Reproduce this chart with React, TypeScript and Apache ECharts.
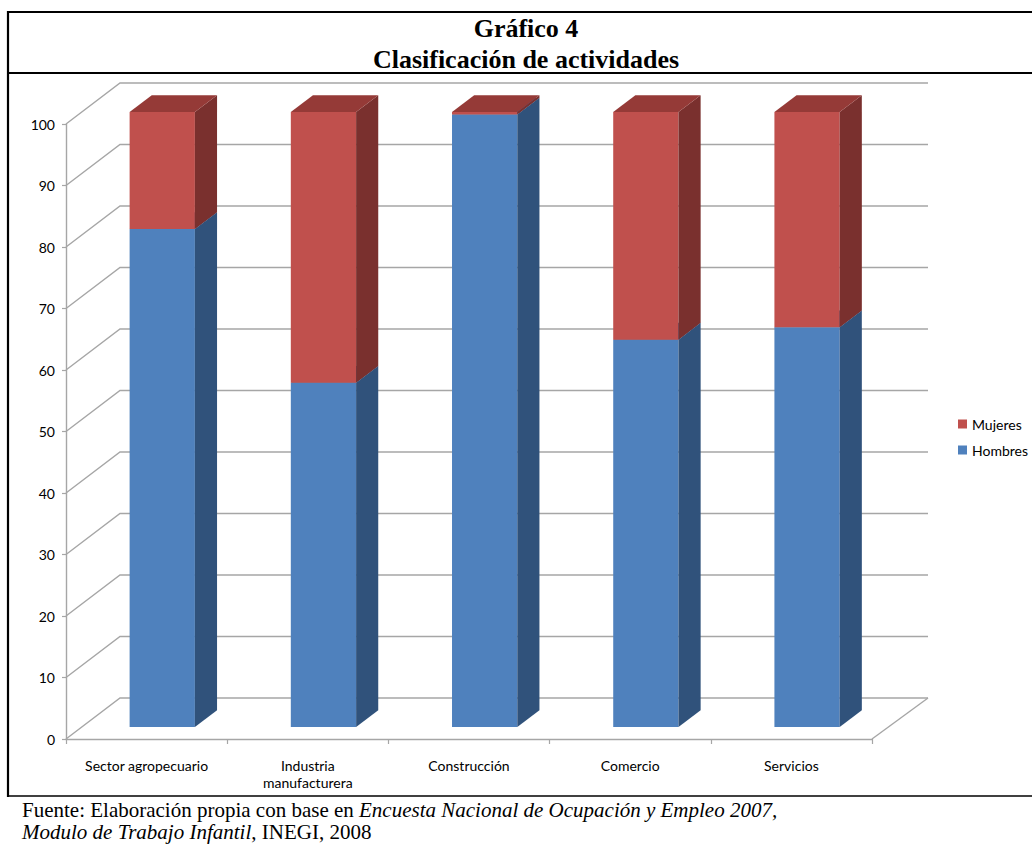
import React, { useEffect, useRef } from "react";
import * as echarts from "echarts";

const categories = [
  "Sector agropecuario",
  "Industria manufacturera",
  "Construcción",
  "Comercio",
  "Servicios",
];
const hombres = [81, 56, 99.6, 63, 65];
const mujeres = [19, 44, 0.4, 37, 35];
const yTicks = [0, 10, 20, 30, 40, 50, 60, 70, 80, 90, 100];

const DEPTH_X = 54;
const DEPTH_Y = -41;
const FRONT_RATIO = 0.29;
const BAR_DEPTH_RATIO = 0.41;
const GRID_COLOR = "#A6A6A6";

const COLORS: Record<string, { front: string; side: string; top: string }> = {
  Hombres: { front: "#4F81BD", side: "#30527B", top: "#3D679B" },
  Mujeres: { front: "#C0504D", side: "#7A302E", top: "#953A37" },
};

function barRenderer(name: string) {
  const c = COLORS[name];
  return (params: any, api: any) => {
    const idx = api.value(0);
    const base = api.value(1);
    const top = api.value(2);
    const pb = api.coord([idx, base]);
    const pt = api.coord([idx, top]);
    const catW = api.size([1, 0])[0];
    const w = catW * 0.405;
    const ox = DEPTH_X * FRONT_RATIO;
    const oy = DEPTH_Y * FRONT_RATIO;
    const dx = DEPTH_X * BAR_DEPTH_RATIO;
    const dy = DEPTH_Y * BAR_DEPTH_RATIO;
    const xL = pb[0] + ox - w / 2;
    const xR = xL + w;
    const yb = pb[1] + oy;
    const yt = pt[1] + oy;
    return {
      type: "group",
      children: [
        {
          type: "rect",
          shape: { x: xL, y: yt, width: w, height: yb - yt },
          style: { fill: c.front },
        },
        {
          type: "polygon",
          shape: {
            points: [
              [xR, yb],
              [xR + dx, yb + dy],
              [xR + dx, yt + dy],
              [xR, yt],
            ],
          },
          style: { fill: c.side },
        },
        {
          type: "polygon",
          shape: {
            points: [
              [xL, yt],
              [xR, yt],
              [xR + dx, yt + dy],
              [xL + dx, yt + dy],
            ],
          },
          style: { fill: c.top },
        },
      ],
    };
  };
}

function gridRenderer(params: any, api: any) {
  const cs = params.coordSys;
  const v = api.value(1);
  const y = api.coord([0, v])[1];
  const x0 = cs.x;
  const x1 = cs.x + cs.width;
  const children: any[] = [
    {
      type: "polyline",
      shape: {
        points: [
          [x0, y],
          [x0 + DEPTH_X, y + DEPTH_Y],
          [x1 + DEPTH_X + 2, y + DEPTH_Y],
        ],
      },
      style: { stroke: GRID_COLOR, lineWidth: 1.4, fill: null },
    },
  ];
  if (v === 0) {
    children.push({
      type: "line",
      shape: { x1: x1, y1: y, x2: x1 + DEPTH_X + 2, y2: y + DEPTH_Y },
      style: { stroke: GRID_COLOR, lineWidth: 1.4 },
    });
  }
  return { type: "group", children };
}

export default function App() {
  const ref = useRef<HTMLDivElement>(null);
  useEffect(() => {
    if (!ref.current) return;
    const chart = echarts.init(ref.current, null, { renderer: "svg" });
    const hData = hombres.map((v, i) => [i, 0, v]);
    const mData = mujeres.map((v, i) => [i, hombres[i], hombres[i] + v]);
    const serif = "'Liberation Serif', 'Times New Roman', serif";
    const sans = "Lato, 'Open Sans', sans-serif";
    chart.setOption({
      animation: false,
      backgroundColor: "#ffffff",
      grid: { left: 66, right: 160, top: 124, bottom: 105 },
      legend: {
        orient: "vertical",
        left: 953,
        top: 412,
        data: ["Mujeres", "Hombres"],
        icon: "rect",
        itemWidth: 9,
        itemHeight: 9,
        itemGap: 12,
        textStyle: { fontFamily: sans, fontSize: 14, color: "#000" },
      },
      xAxis: {
        type: "category",
        data: categories,
        axisLine: { show: true, lineStyle: { color: GRID_COLOR, width: 1.4 } },
        axisTick: { show: true, length: 5, lineStyle: { color: GRID_COLOR, width: 1.2 } },
        axisLabel: {
          margin: 18,
          fontFamily: sans,
          fontSize: 14,
          color: "#000",
          lineHeight: 17,
          formatter: (v: string) => v.replace(" manufacturera", "\nmanufacturera"),
        },
        splitLine: { show: false },
      },
      yAxis: {
        type: "value",
        min: 0,
        max: 100,
        interval: 10,
        axisLine: { show: true, lineStyle: { color: GRID_COLOR, width: 1.4 } },
        axisTick: { show: true, length: 4, lineStyle: { color: GRID_COLOR, width: 1.2 } },
        axisLabel: { margin: 11, fontFamily: sans, fontSize: 14, color: "#000" },
        splitLine: { show: false },
      },
      graphic: [
        { type: "line", shape: { x1: 8, y1: 12, x2: 1032, y2: 12 }, style: { stroke: "#000", lineWidth: 2.2 } },
        { type: "line", shape: { x1: 8, y1: 11, x2: 8, y2: 797 }, style: { stroke: "#000", lineWidth: 2.2 } },
        { type: "line", shape: { x1: 8, y1: 73, x2: 1032, y2: 73 }, style: { stroke: "#000", lineWidth: 2.2 } },
        { type: "line", shape: { x1: 8, y1: 796, x2: 1032, y2: 796 }, style: { stroke: "#000", lineWidth: 1.6 } },
        {
          type: "text",
          x: 526,
          y: 28,
          style: {
            text: "Gráfico 4",
            font: "bold 26px " + serif,
            fill: "#000",
            align: "center",
            verticalAlign: "middle",
          },
        },
        {
          type: "text",
          x: 526,
          y: 59,
          style: {
            text: "Clasificación de actividades",
            font: "bold 26px " + serif,
            fill: "#000",
            align: "center",
            verticalAlign: "middle",
          },
        },
        {
          type: "text",
          x: 22,
          y: 810,
          style: {
            text: "Fuente: Elaboración propia con base en {i|Encuesta Nacional de Ocupación y Empleo 2007,}",
            font: "21px " + serif,
            fill: "#000",
            verticalAlign: "middle",
            rich: { i: { fontStyle: "italic", fontSize: 21, fontFamily: serif, fill: "#000" } },
          },
        },
        {
          type: "text",
          x: 22,
          y: 832,
          style: {
            text: "{i|Modulo de Trabajo Infantil}, INEGI, 2008",
            font: "21px " + serif,
            fill: "#000",
            verticalAlign: "middle",
            rich: { i: { fontStyle: "italic", fontSize: 21, fontFamily: serif, fill: "#000" } },
          },
        },
      ],
      series: [
        {
          name: "grid3d",
          type: "custom",
          silent: true,
          z: 1,
          renderItem: gridRenderer,
          encode: { x: 0, y: 1 },
          data: yTicks.map((v) => [0, v]),
        },
        {
          name: "Hombres",
          type: "custom",
          z: 2,
          itemStyle: { color: COLORS.Hombres.front },
          renderItem: barRenderer("Hombres"),
          encode: { x: 0, y: [1, 2] },
          data: hData,
        },
        {
          name: "Mujeres",
          type: "custom",
          z: 3,
          itemStyle: { color: COLORS.Mujeres.front },
          renderItem: barRenderer("Mujeres"),
          encode: { x: 0, y: [1, 2] },
          data: mData,
        },
      ],
    });
    return () => chart.dispose();
  }, []);
  return (
    <div
      ref={ref}
      style={{ position: "absolute", left: 0, top: 0, width: 1032, height: 844 }}
    />
  );
}
